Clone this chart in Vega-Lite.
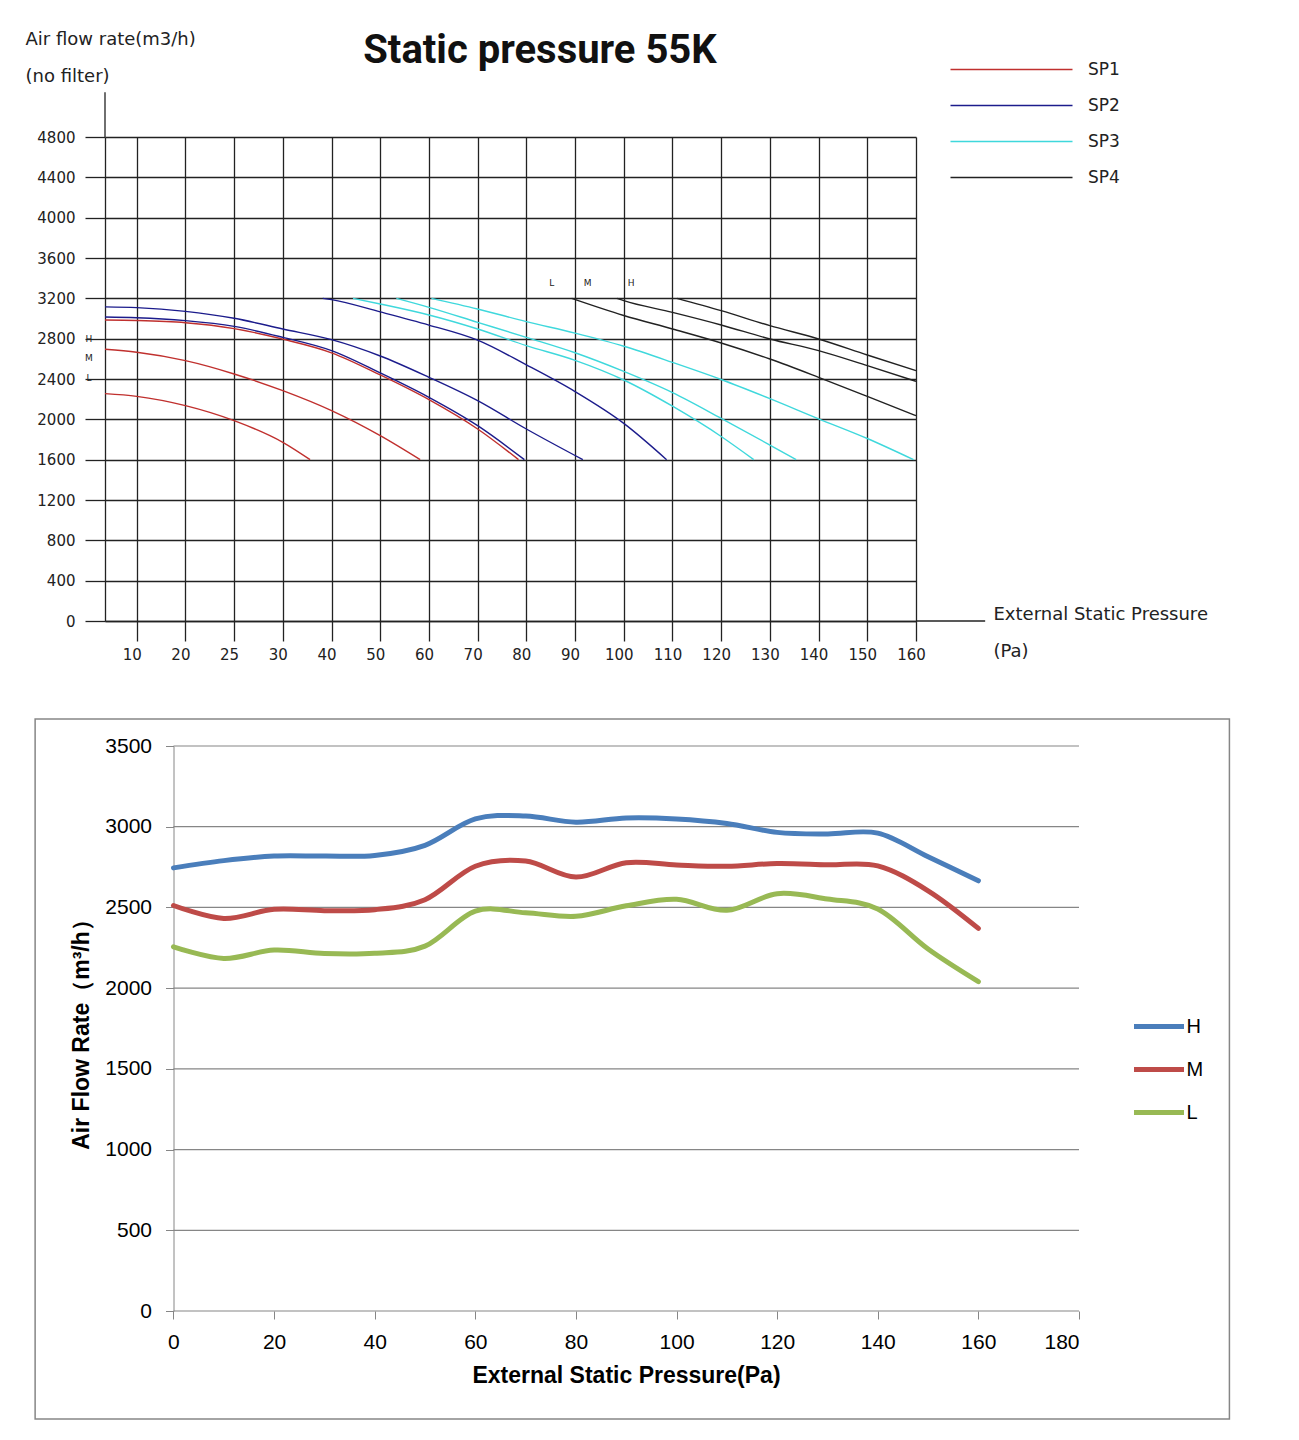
{
  "$schema": "https://vega.github.io/schema/vega-lite/v6.json",
  "background": "white",
  "padding": {"left": 25, "top": 30, "right": 5, "bottom": 5},
  "spacing": 56,
  "config": {"view": {"stroke": null}},
  "resolve": {"scale": {"color": "independent"}, "legend": {"color": "independent"}},
  "vconcat": [
    {
      "width": 811,
      "height": 484,
      "layer": [
        {
          "data": {"values": [
            {"s":"SP1","v":"L","p":-6.5,"q":2255},{"s":"SP1","v":"L","p":0,"q":2228},{"s":"SP1","v":"L","p":10,"q":2136},{"s":"SP1","v":"L","p":20,"q":1987},{"s":"SP1","v":"L","p":30,"q":1772},{"s":"SP1","v":"L","p":35.6,"q":1600},
            {"s":"SP1","v":"M","p":-6.5,"q":2695},{"s":"SP1","v":"M","p":0,"q":2665},{"s":"SP1","v":"M","p":10,"q":2582},{"s":"SP1","v":"M","p":20,"q":2450},{"s":"SP1","v":"M","p":30,"q":2284},{"s":"SP1","v":"M","p":40,"q":2086},{"s":"SP1","v":"M","p":50,"q":1838},{"s":"SP1","v":"M","p":58.2,"q":1600},
            {"s":"SP1","v":"H","p":-6.5,"q":2985},{"s":"SP1","v":"H","p":0,"q":2980},{"s":"SP1","v":"H","p":10,"q":2958},{"s":"SP1","v":"H","p":20,"q":2900},{"s":"SP1","v":"H","p":30,"q":2795},{"s":"SP1","v":"H","p":40,"q":2660},{"s":"SP1","v":"H","p":50,"q":2440},{"s":"SP1","v":"H","p":60,"q":2195},{"s":"SP1","v":"H","p":70,"q":1904},{"s":"SP1","v":"H","p":78.4,"q":1600},
            {"s":"SP2","v":"L","p":-6.5,"q":3015},{"s":"SP2","v":"L","p":0,"q":3008},{"s":"SP2","v":"L","p":10,"q":2979},{"s":"SP2","v":"L","p":20,"q":2922},{"s":"SP2","v":"L","p":30,"q":2813},{"s":"SP2","v":"L","p":40,"q":2681},{"s":"SP2","v":"L","p":50,"q":2460},{"s":"SP2","v":"L","p":60,"q":2218},{"s":"SP2","v":"L","p":70,"q":1937},{"s":"SP2","v":"L","p":79.6,"q":1600},
            {"s":"SP2","v":"M","p":-6.5,"q":3115},{"s":"SP2","v":"M","p":0,"q":3108},{"s":"SP2","v":"M","p":10,"q":3071},{"s":"SP2","v":"M","p":20,"q":3002},{"s":"SP2","v":"M","p":30,"q":2896},{"s":"SP2","v":"M","p":40,"q":2790},{"s":"SP2","v":"M","p":50,"q":2628},{"s":"SP2","v":"M","p":60,"q":2417},{"s":"SP2","v":"M","p":70,"q":2185},{"s":"SP2","v":"M","p":80,"q":1904},{"s":"SP2","v":"M","p":91.6,"q":1600},
            {"s":"SP2","v":"H","p":38.2,"q":3200},{"s":"SP2","v":"H","p":40,"q":3187},{"s":"SP2","v":"H","p":50,"q":3065},{"s":"SP2","v":"H","p":60,"q":2935},{"s":"SP2","v":"H","p":70,"q":2785},{"s":"SP2","v":"H","p":80,"q":2540},{"s":"SP2","v":"H","p":90,"q":2275},{"s":"SP2","v":"H","p":100,"q":1960},{"s":"SP2","v":"H","p":108.8,"q":1600},
            {"s":"SP3","v":"L","p":44.4,"q":3200},{"s":"SP3","v":"L","p":50,"q":3144},{"s":"SP3","v":"L","p":60,"q":3035},{"s":"SP3","v":"L","p":70,"q":2896},{"s":"SP3","v":"L","p":80,"q":2731},{"s":"SP3","v":"L","p":90,"q":2585},{"s":"SP3","v":"L","p":100,"q":2390},{"s":"SP3","v":"L","p":110,"q":2130},{"s":"SP3","v":"L","p":120,"q":1830},{"s":"SP3","v":"L","p":126.7,"q":1600},
            {"s":"SP3","v":"M","p":53.3,"q":3200},{"s":"SP3","v":"M","p":60,"q":3111},{"s":"SP3","v":"M","p":70,"q":2962},{"s":"SP3","v":"M","p":80,"q":2813},{"s":"SP3","v":"M","p":90,"q":2660},{"s":"SP3","v":"M","p":100,"q":2475},{"s":"SP3","v":"M","p":110,"q":2265},{"s":"SP3","v":"M","p":120,"q":2010},{"s":"SP3","v":"M","p":130,"q":1745},{"s":"SP3","v":"M","p":135.4,"q":1600},
            {"s":"SP3","v":"H","p":60.5,"q":3200},{"s":"SP3","v":"H","p":70,"q":3094},{"s":"SP3","v":"H","p":80,"q":2969},{"s":"SP3","v":"H","p":90,"q":2855},{"s":"SP3","v":"H","p":100,"q":2725},{"s":"SP3","v":"H","p":110,"q":2565},{"s":"SP3","v":"H","p":120,"q":2395},{"s":"SP3","v":"H","p":130,"q":2205},{"s":"SP3","v":"H","p":140,"q":2005},{"s":"SP3","v":"H","p":150,"q":1810},{"s":"SP3","v":"H","p":159.5,"q":1600},
            {"s":"SP4","v":"L","p":89.3,"q":3200},{"s":"SP4","v":"L","p":100,"q":3030},{"s":"SP4","v":"L","p":110,"q":2896},{"s":"SP4","v":"L","p":120,"q":2757},{"s":"SP4","v":"L","p":130,"q":2598},{"s":"SP4","v":"L","p":140,"q":2417},{"s":"SP4","v":"L","p":150,"q":2228},{"s":"SP4","v":"L","p":160,"q":2036},
            {"s":"SP4","v":"M","p":98.6,"q":3200},{"s":"SP4","v":"M","p":100,"q":3177},{"s":"SP4","v":"M","p":110,"q":3061},{"s":"SP4","v":"M","p":120,"q":2936},{"s":"SP4","v":"M","p":130,"q":2797},{"s":"SP4","v":"M","p":140,"q":2681},{"s":"SP4","v":"M","p":150,"q":2532},{"s":"SP4","v":"M","p":160,"q":2377},
            {"s":"SP4","v":"H","p":110.9,"q":3200},{"s":"SP4","v":"H","p":120,"q":3078},{"s":"SP4","v":"H","p":130,"q":2929},{"s":"SP4","v":"H","p":140,"q":2797},{"s":"SP4","v":"H","p":150,"q":2638},{"s":"SP4","v":"H","p":160,"q":2483}
          ]},
          "mark": {"type": "line", "interpolate": "monotone", "strokeWidth": 1.4},
          "encoding": {
            "x": {"field": "p", "type": "quantitative", "scale": {"domain": [-6.51, 160], "nice": false, "zero": false},
              "axis": {"values": [0,10,20,30,40,50,60,70,80,90,100,110,120,130,140,150,160],
                "labelExpr": "datum.value == 0 ? '10' : datum.value == 10 ? '20' : datum.value == 20 ? '25' : datum.label",
                "grid": true, "gridColor": "#222222", "gridWidth": 1.3, "gridOpacity": 1,
                "tickSize": 20, "tickColor": "#222222", "tickWidth": 1.3,
                "domainColor": "#222222", "domainWidth": 1.3,
                "labelFont": "DejaVu Sans", "labelFontSize": 15, "labelColor": "#222222", "labelPadding": 6, "labelOffset": -5,
                "labelFlush": false, "labelOverlap": false,
                "title": ["External Static Pressure", "(Pa)"], "titleX": 888, "titleY": -2, "titleAlign": "left", "titleAnchor": "start", "titleBaseline": "alphabetic",
                "titleFont": "DejaVu Sans", "titleFontSize": 18, "titleFontWeight": "normal", "titleColor": "#222222", "titleLineHeight": 37}},
            "y": {"field": "q", "type": "quantitative", "scale": {"domain": [0, 4800], "nice": false},
              "axis": {"values": [0,400,800,1200,1600,2000,2400,2800,3200,3600,4000,4400,4800], "format": "d",
                "grid": true, "gridColor": "#222222", "gridWidth": 1.3, "gridOpacity": 1,
                "tickSize": 20, "tickColor": "#222222", "tickWidth": 1.3,
                "domainColor": "#222222", "domainWidth": 1.3,
                "labelFont": "DejaVu Sans", "labelFontSize": 15, "labelColor": "#222222", "labelPadding": 10,
                "labelFlush": false, "labelOverlap": false,
                "title": ["Air flow rate(m3/h)", "(no filter)"], "titleAngle": 0, "titleX": -80, "titleY": -93, "titleAlign": "left", "titleAnchor": "start", "titleBaseline": "alphabetic",
                "titleFont": "DejaVu Sans", "titleFontSize": 18, "titleFontWeight": "normal", "titleColor": "#222222", "titleLineHeight": 37}},
            "color": {"field": "s", "type": "nominal", "scale": {"domain": ["SP1","SP2","SP3","SP4"], "range": ["#c0302e","#1c1c8c","#3fd8dc","#222222"]},
              "legend": {"orient": "none", "legendX": 842, "legendY": -76, "title": null, "padding": 0,
                "symbolType": "M-1,0H23.4", "symbolSize": 100, "symbolStrokeWidth": 1.3,
                "labelFont": "DejaVu Sans", "labelFontSize": 17, "labelColor": "#222222", "labelOffset": 124, "rowPadding": 18}},
            "detail": {"field": "v", "type": "nominal"}
          }
        },
        {
          "data": {"values": [
            {"t":"H","p":-9.8,"q":2800},{"t":"M","p":-9.8,"q":2605},{"t":"L","p":-9.8,"q":2410},
            {"t":"L","p":85.2,"q":3352},{"t":"M","p":92.6,"q":3352},{"t":"H","p":101.5,"q":3352}
          ]},
          "mark": {"type": "text", "font": "DejaVu Sans", "fontSize": 9, "color": "#222222"},
          "encoding": {
            "x": {"field": "p", "type": "quantitative"},
            "y": {"field": "q", "type": "quantitative"},
            "text": {"field": "t"}
          }
        },
        {
          "data": {"values": [{"t": "Static pressure 55K"}]},
          "mark": {"type": "text", "font": "Roboto", "fontSize": 40, "fontWeight": "bold", "color": "#111111", "align": "center", "baseline": "alphabetic"},
          "encoding": {"x": {"datum": 82.8}, "y": {"datum": 5531}, "text": {"field": "t"}}
        },
        {
          "data": {"values": [{}]},
          "mark": {"type": "rule", "color": "#222222", "strokeWidth": 1.3},
          "encoding": {"x": {"datum": 160}, "x2": {"datum": 174.2}, "y": {"datum": 0}}
        },
        {
          "data": {"values": [{}]},
          "mark": {"type": "rule", "color": "#222222", "strokeWidth": 1.3},
          "encoding": {"x": {"datum": -6.51}, "y": {"datum": 4800}, "y2": {"datum": 5244}}
        }
      ]
    },
    {
      "width": 974,
      "height": 565,
      "layer": [
        {
          "data": {"values": [{}]},
          "mark": {"type": "rect", "fill": "transparent", "stroke": "#868686", "strokeWidth": 1.5},
          "encoding": {"x": {"datum": -27.5}, "x2": {"datum": 209.9}, "y": {"datum": 3667}, "y2": {"datum": -669}}
        },
        {
          "data": {"values": [{"q":0},{"q":500},{"q":1000},{"q":1500},{"q":2000},{"q":2500},{"q":3000},{"q":3500}]},
          "mark": {"type": "rule", "color": "#868686", "strokeWidth": 1.2},
          "encoding": {"x": {"datum": 0}, "x2": {"datum": 180}, "y": {"field": "q", "type": "quantitative"}}
        },
        {
          "data": {"values": [
            {"lv":"H","p":0,"q":2745},{"lv":"H","p":10,"q":2790},{"lv":"H","p":20,"q":2818},{"lv":"H","p":30,"q":2818},{"lv":"H","p":40,"q":2822},{"lv":"H","p":50,"q":2885},{"lv":"H","p":60,"q":3048},{"lv":"H","p":70,"q":3066},{"lv":"H","p":80,"q":3028},{"lv":"H","p":90,"q":3054},{"lv":"H","p":100,"q":3048},{"lv":"H","p":110,"q":3020},{"lv":"H","p":120,"q":2965},{"lv":"H","p":130,"q":2955},{"lv":"H","p":140,"q":2960},{"lv":"H","p":150,"q":2814},{"lv":"H","p":160,"q":2665},
            {"lv":"M","p":0,"q":2512},{"lv":"M","p":10,"q":2432},{"lv":"M","p":20,"q":2488},{"lv":"M","p":30,"q":2480},{"lv":"M","p":40,"q":2486},{"lv":"M","p":50,"q":2548},{"lv":"M","p":60,"q":2755},{"lv":"M","p":70,"q":2787},{"lv":"M","p":80,"q":2688},{"lv":"M","p":90,"q":2777},{"lv":"M","p":100,"q":2763},{"lv":"M","p":110,"q":2755},{"lv":"M","p":120,"q":2772},{"lv":"M","p":130,"q":2764},{"lv":"M","p":140,"q":2757},{"lv":"M","p":150,"q":2603},{"lv":"M","p":160,"q":2370},
            {"lv":"L","p":0,"q":2256},{"lv":"L","p":10,"q":2184},{"lv":"L","p":20,"q":2236},{"lv":"L","p":30,"q":2214},{"lv":"L","p":40,"q":2216},{"lv":"L","p":50,"q":2260},{"lv":"L","p":60,"q":2477},{"lv":"L","p":70,"q":2467},{"lv":"L","p":80,"q":2445},{"lv":"L","p":90,"q":2510},{"lv":"L","p":100,"q":2550},{"lv":"L","p":110,"q":2482},{"lv":"L","p":120,"q":2585},{"lv":"L","p":130,"q":2552},{"lv":"L","p":140,"q":2490},{"lv":"L","p":150,"q":2242},{"lv":"L","p":160,"q":2040}
          ]},
          "mark": {"type": "line", "interpolate": "cardinal", "strokeWidth": 5, "strokeCap": "round"},
          "encoding": {
            "x": {"field": "p", "type": "quantitative", "scale": {"domain": [-13.61, 180], "nice": false, "zero": false},
              "axis": {"values": [0,20,40,60,80,100,120,140,160,180], "grid": false, "domain": false,
                "tickSize": 8, "tickColor": "#868686",
                "labelFont": "Liberation Sans", "labelFontSize": 21, "labelColor": "#000000", "labelPadding": 12,
                "title": "External Static Pressure(Pa)", "titleX": 521, "titleAlign": "center", "titleAnchor": "start",
                "titleFont": "Liberation Sans", "titleFontSize": 23, "titleFontWeight": "bold", "titleColor": "#000000", "titlePadding": 12}},
            "y": {"field": "q", "type": "quantitative", "scale": {"domain": [0, 3500], "nice": false},
              "axis": {"values": [0,500,1000,1500,2000,2500,3000,3500], "format": "d", "grid": false, "offset": -68.5,
                "tickSize": 8, "tickColor": "#868686", "domainColor": "#868686",
                "labelFont": "Liberation Sans", "labelFontSize": 21, "labelColor": "#000000", "labelPadding": 14,
                "title": "Air Flow Rate（m³/h）", "titleFont": "Liberation Sans", "titleFontSize": 23, "titleFontWeight": "bold", "titleColor": "#000000", "titlePadding": 11}},
            "color": {"field": "lv", "type": "nominal", "scale": {"domain": ["H","M","L"], "range": ["#4a7ebb","#be4b48","#98b954"]},
              "legend": {"orient": "none", "legendX": 1026.5, "legendY": 268, "title": null, "padding": 0,
                "symbolType": "M-1,0H4", "symbolSize": 400, "symbolStrokeWidth": 5,
                "labelFont": "Liberation Sans", "labelFontSize": 20, "labelColor": "#000000", "labelOffset": 30, "rowPadding": 20}}
          }
        }
      ]
    }
  ]
}
